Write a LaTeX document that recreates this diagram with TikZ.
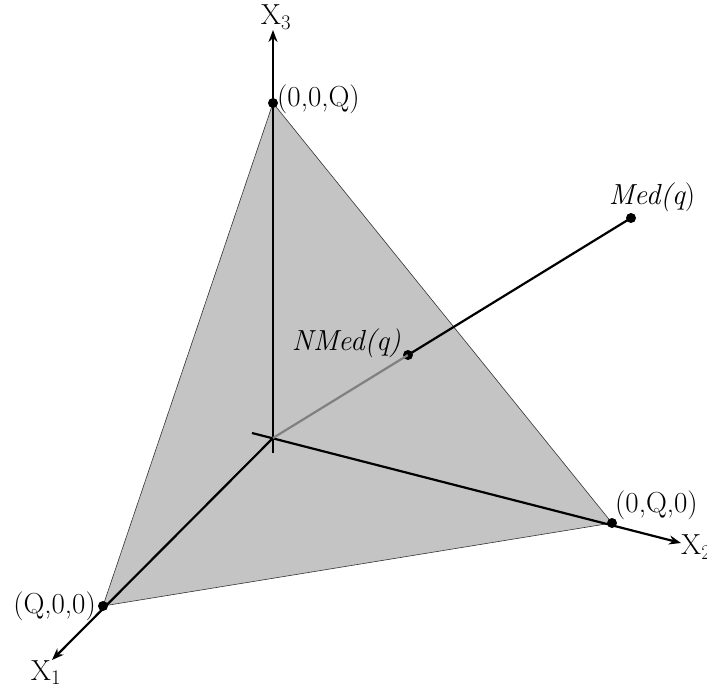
\documentclass[tikz,border=0pt]{standalone}
\usepackage{fontspec}
\usetikzlibrary{arrows.meta}
\begin{document}
\begin{tikzpicture}[x=1pt,y=-1pt,
  axis/.style={line width=2.2pt,black},
  axarrow/.style={axis,-{Stealth[length=12pt,width=9pt]}},
  dot/.style={circle,fill=black,inner sep=0pt,minimum size=10pt},
  lab/.style={font=\fontsize{29}{33}\selectfont,inner sep=1pt},
  medlab/.style={font=\fontsize{29}{33}\selectfont\itshape,inner sep=1pt}]
\useasboundingbox (0,0) rectangle (707,690);
\coordinate (O) at (273,438);
\coordinate (A3) at (273,30);
\coordinate (B3) at (273,453);
\coordinate (A2) at (681,543);
\coordinate (B2) at (252,433);
\coordinate (A1) at (52,660);
% triangle
\fill[fill={rgb,255:red,196;green,196;blue,196}] (273,103) -- (612,523) -- (103,606) -- cycle;
\draw[line width=0.6pt,black!80] (273,103) -- (612,523) -- (103,606) -- cycle;
% axes
\draw[axarrow] (B3) -- (A3);
\draw[axarrow] (B2) -- (A2);
\draw[axarrow] (O) -- (A1);
% points
\node[dot] (P3) at (273,103) {};
\node[dot] (P2) at (612,523) {};
\node[dot] (P1) at (103,606) {};
\node[dot] (N) at (408,355) {};
\node[dot] (M) at (631,218) {};
\draw[line width=2.2pt,gray] (O) -- (N.center);
\draw[line width=2.2pt] (N.center) -- (M.center);
% labels
\node[lab,anchor=south] (L3) at (276,31) {X$_3$};
\node[lab,anchor=west] (LP3) at (276,99) {(0,0,Q)};
\node[lab,anchor=west] (LP2) at (614,505) {(0,Q,0)};
\node[lab,anchor=west] (L2) at (680,547) {X$_2$};
\node[lab,anchor=east] (LP1) at (97,606) {(Q,0,0)};
\node[lab,anchor=north] (L1) at (46,659) {X$_1$};
\node[medlab,anchor=south] (LM) at (652,213) {Med(q{\upshape)}};
\node[medlab,anchor=east] (LN) at (402,343) {NMed(q)};
\end{tikzpicture}
\end{document}
